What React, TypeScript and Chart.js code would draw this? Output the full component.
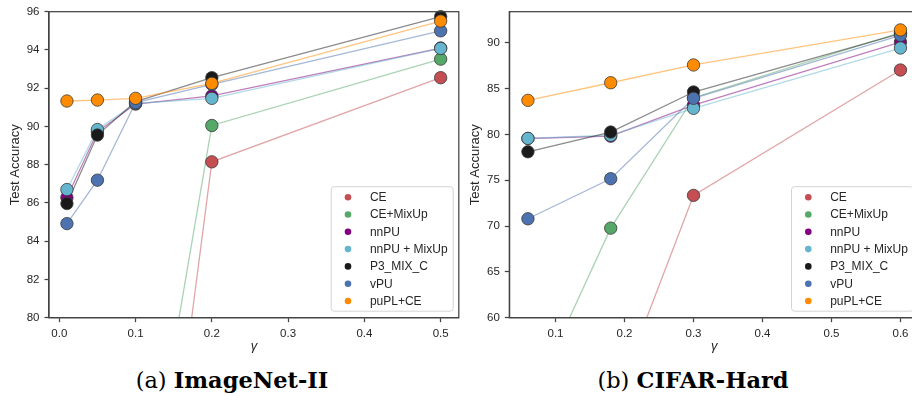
import React, { useEffect, useRef } from 'react';
import { Chart, registerables } from 'chart.js';

Chart.register(...registerables);

// ---------- data ----------
const seriesNames = ['CE', 'CE+MixUp', 'nnPU', 'nnPU + MixUp', 'P3_MIX_C', 'vPU', 'puPL+CE'];
const seriesColors = ['#c44e52', '#55a868', '#800080', '#64b5cd', '#1a1a1a', '#4c72b0', '#ff8c00'];

// (a) ImageNet-II
const gammaA = [0.01, 0.05, 0.1, 0.2, 0.5];
const ceA = [50.5, 53.0, 57.3, 88.15, 92.55];
const ceMixA = [58.0, 61.5, 66.7, 90.05, 93.52];
const nnpuA = [86.28, 89.72, 91.17, 91.6, 94.1];
const nnpuMixA = [86.7, 89.84, 91.2, 91.47, 94.08];
const p3A = [85.97, 89.55, 91.3, 92.55, 95.74];
const vpuA = [84.92, 87.19, 91.25, 92.2, 95.0];
const puplA = [91.33, 91.38, 91.47, 92.25, 95.51];
const xTicksA = [0.0, 0.1, 0.2, 0.3, 0.4, 0.5];
const yTicksA = [80, 82, 84, 86, 88, 90, 92, 94, 96];

// (b) CIFAR-Hard
const gammaB = [0.06, 0.18, 0.3, 0.6];
const ceB = [45.0, 49.7, 73.34, 87.02];
const ceMixB = [50.1, 69.77, 84.0, 91.1];
const nnpuB = [79.55, 79.8, 83.2, 90.05];
const nnpuMixB = [79.56, 79.9, 82.84, 89.42];
const p3B = [78.1, 80.25, 84.62, 91.0];
const vpuB = [70.79, 75.16, 83.93, 90.8];
const puplB = [83.71, 85.63, 87.57, 91.39];
const xTicksB = [0.1, 0.2, 0.3, 0.4, 0.5, 0.6];
const yTicksB = [60, 65, 70, 75, 80, 85, 90];

const valuesA = [ceA, ceMixA, nnpuA, nnpuMixA, p3A, vpuA, puplA];
const valuesB = [ceB, ceMixB, nnpuB, nnpuMixB, p3B, vpuB, puplB];

// ---------- helpers ----------
function rgba(hex: string, a: number) {
  const h = hex.replace('#', '');
  const r = parseInt(h.slice(0, 2), 16);
  const g = parseInt(h.slice(2, 4), 16);
  const b = parseInt(h.slice(4, 6), 16);
  return `rgba(${r},${g},${b},${a})`;
}

const SPINE = '#444444';
const TEXT = '#262626';
const SANS = '"Liberation Sans", Arial, sans-serif';

const framePlugin = {
  id: 'frameAndLegend',
  afterDatasetsDraw(chart: any) {
    const { ctx, chartArea: a } = chart;
    ctx.save();
    ctx.strokeStyle = SPINE;
    ctx.lineWidth = 1.25;
    ctx.strokeRect(a.left, a.top, a.right - a.left, a.bottom - a.top);
    ctx.restore();
  },
  afterDraw(chart: any) {
    const { ctx, chartArea: a } = chart;
    const w = 122;
    const h = 124.5;
    const right = a.right - 5.6;
    const bottom = a.bottom - 6.5;
    const left = right - w;
    const top = bottom - h;
    ctx.save();
    ctx.beginPath();
    const r = 3;
    ctx.moveTo(left + r, top);
    ctx.lineTo(right - r, top);
    ctx.arcTo(right, top, right, top + r, r);
    ctx.lineTo(right, bottom - r);
    ctx.arcTo(right, bottom, right - r, bottom, r);
    ctx.lineTo(left + r, bottom);
    ctx.arcTo(left, bottom, left, bottom - r, r);
    ctx.lineTo(left, top + r);
    ctx.arcTo(left, top, left + r, top, r);
    ctx.closePath();
    ctx.fillStyle = 'rgba(255,255,255,0.85)';
    ctx.fill();
    ctx.strokeStyle = '#d4d4d4';
    ctx.lineWidth = 1;
    ctx.stroke();
    ctx.font = `12px ${SANS}`;
    ctx.textBaseline = 'middle';
    ctx.textAlign = 'left';
    seriesNames.forEach((name, i) => {
      const y = top + 10.5 + i * 17.3;
      ctx.beginPath();
      ctx.arc(left + 16.8, y, 3.3, 0, Math.PI * 2);
      ctx.fillStyle = seriesColors[i];
      ctx.fill();
      ctx.fillStyle = TEXT;
      ctx.fillText(name, left + 38.7, y + 0.5);
    });
    ctx.restore();
  },
};

function buildConfig(
  xs: number[],
  vals: number[][],
  xMin: number,
  xMax: number,
  yMin: number,
  yMax: number,
  xTicks: number[],
  yTicks: number[],
  yAxisWidth: number,
  rightPad: number
): any {
  const lineSets = vals.map((v, i) => ({
    label: seriesNames[i] + ' line',
    data: xs.map((x, j) => ({ x, y: v[j] })),
    showLine: true,
    borderColor: rgba(seriesColors[i], 0.5),
    borderWidth: 1.3,
    pointRadius: 0,
    pointHoverRadius: 0,
    order: 100 - i,
    clip: 0,
  }));
  const dotSets = vals.map((v, i) => ({
    label: seriesNames[i],
    data: xs.map((x, j) => ({ x, y: v[j] })),
    showLine: false,
    backgroundColor: seriesColors[i],
    borderColor: '#3a3a3a',
    borderWidth: 0.8,
    pointRadius: 6.2,
    pointHoverRadius: 6.2,
    order: 50 - i,
    clip: { left: 8, top: 8, right: 8, bottom: 0 },
  }));
  const tickFont = { family: SANS, size: 11.5 };
  return {
    type: 'scatter',
    data: { datasets: [...lineSets, ...dotSets] },
    plugins: [framePlugin],
    options: {
      animation: false,
      responsive: false,
      devicePixelRatio: 1,
      events: [],
      layout: { autoPadding: false, padding: { top: 11.7, right: rightPad, left: 0, bottom: 0 } },
      plugins: { legend: { display: false }, tooltip: { enabled: false } },
      scales: {
        x: {
          type: 'linear',
          min: xMin,
          max: xMax,
          afterBuildTicks: (s: any) => {
            s.ticks = xTicks.map((v) => ({ value: v }));
          },
          afterFit: (s: any) => {
            s.height = 42.3;
            s.paddingLeft = 0;
            s.paddingRight = 0;
          },
          ticks: {
            font: tickFont,
            color: TEXT,
            padding: 5,
            maxRotation: 0,
            autoSkip: false,
            callback: (v: any) => Number(v).toFixed(1),
          },
          grid: {
            drawOnChartArea: false,
            drawTicks: true,
            tickLength: 4.5,
            tickColor: SPINE,
            tickWidth: 1.25,
          },
          border: { display: true, color: SPINE, width: 1.25 },
          title: {
            display: true,
            text: 'γ',
            color: TEXT,
            font: { family: SANS, size: 13, style: 'italic' },
            padding: { top: 0, bottom: 5.8 },
          },
        },
        y: {
          type: 'linear',
          min: yMin,
          max: yMax,
          afterBuildTicks: (s: any) => {
            s.ticks = yTicks.map((v) => ({ value: v }));
          },
          afterFit: (s: any) => {
            s.width = yAxisWidth;
            s.paddingTop = 0;
            s.paddingBottom = 0;
          },
          ticks: {
            font: tickFont,
            color: TEXT,
            padding: 5,
            autoSkip: false,
            callback: (v: any) => String(v),
          },
          grid: {
            drawOnChartArea: false,
            drawTicks: true,
            tickLength: 4.5,
            tickColor: SPINE,
            tickWidth: 1.25,
          },
          border: { display: true, color: SPINE, width: 1.25 },
          title: {
            display: true,
            text: 'Test Accuracy',
            color: TEXT,
            font: { family: SANS, size: 13 },
            padding: { top: 8, bottom: 0 },
          },
        },
      },
    },
  };
}

function Panel(props: { config: any; left: number; width: number; height: number }) {
  const ref = useRef<HTMLCanvasElement | null>(null);
  useEffect(() => {
    if (!ref.current) return;
    const chart = new Chart(ref.current, props.config);
    return () => chart.destroy();
  }, []);
  return (
    <canvas
      ref={ref}
      width={props.width}
      height={props.height}
      style={{ position: 'absolute', left: props.left, top: 0, width: props.width, height: props.height }}
    />
  );
}

const captionStyle: React.CSSProperties = {
  position: 'absolute',
  top: 366,
  fontFamily: '"DejaVu Serif", "Liberation Serif", serif',
  fontSize: 22.5,
  lineHeight: '28px',
  color: '#000',
  textAlign: 'center',
  whiteSpace: 'nowrap',
};

export default function App() {
  const cfgA = buildConfig(gammaA, valuesA, -0.0135, 0.5238, 80, 96, xTicksA, yTicksA, 49, 1.2);
  const cfgB = buildConfig(gammaB, valuesB, 0.033, 0.627, 60, 93.38, xTicksB, yTicksB, 49.3, 0.9);
  return (
    <div
      style={{
        position: 'fixed',
        left: 0,
        top: 0,
        width: 912,
        height: 396,
        overflow: 'hidden',
        background: '#fff',
      }}
    >
      <Panel config={cfgA} left={0} width={460} height={360} />
      <Panel config={cfgB} left={460} width={460} height={360} />
      <div style={{ ...captionStyle, left: 0, width: 464 }}>
        (a) <b>ImageNet-II</b>
      </div>
      <div style={{ ...captionStyle, left: 493, width: 400 }}>
        (b) <b>CIFAR-Hard</b>
      </div>
    </div>
  );
}
